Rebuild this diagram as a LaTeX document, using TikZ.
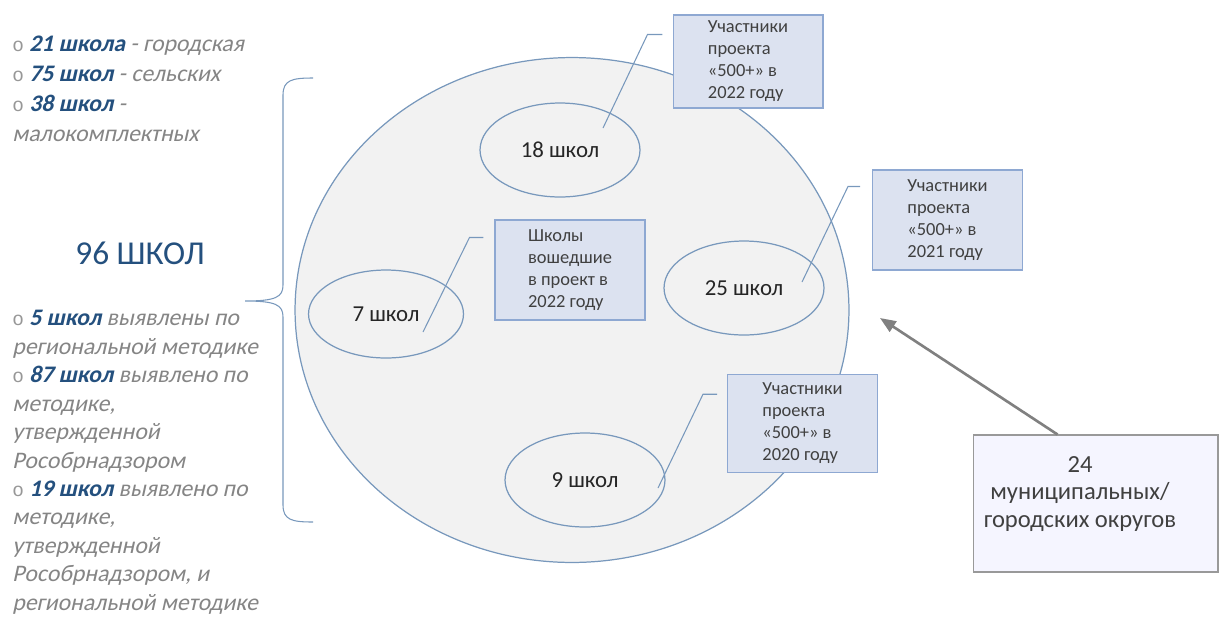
\documentclass[tikz,border=0pt]{standalone}
\usepackage{fontspec}
\setmainfont{Carlito}
\newfontfamily\listfont{Carlito}[FakeSlant=0.22]
\newfontfamily\bulfont{Liberation Mono}
\usetikzlibrary{shapes.geometric,arrows.meta}
\definecolor{numblue}{HTML}{24507E}
\definecolor{txtgray}{HTML}{858585}
\definecolor{edgeblue}{HTML}{7898BC}
\definecolor{boxfill}{HTML}{DCE2F0}
\definecolor{boxedge}{HTML}{8EA8D2}
\newcommand{\bul}[1]{{\bulfont\fontsize{11}{11}\selectfont\color{txtgray!85}o}\ {\bfseries\color{numblue}#1}}
\tikzset{
  listtext/.style={anchor=north west,inner sep=0pt,align=left,text=txtgray,font=\listfont\fontsize{13.5}{17}\selectfont},
  sch/.style={ellipse,draw=edgeblue,line width=0.7pt,minimum width=3.2cm,minimum height=1.88cm,text=black!85,font=\fontsize{13}{15}\selectfont},
  note/.style={draw=boxedge,fill=boxfill,line width=0.6pt,minimum width=3cm,minimum height=1.95cm,align=left,text=black!75,font=\fontsize{10.5}{12.5}\selectfont},
  lead/.style={draw=edgeblue,line width=0.6pt}
}
\begin{document}
\begin{tikzpicture}[x=0.02cm,y=-0.02cm]
\useasboundingbox (0,0) rectangle (1219,616);
\node[listtext] (kinds) at (12,36) {\bul{21 школа} - городская\\ \bul{75 школ} - сельских\\ \bul{38 школ} -\\ малокомплектных};
\node[text=numblue,font=\fontsize{19}{22}\selectfont] (total) at (140,253) {96 ШКОЛ};
\node[listtext,font=\listfont\fontsize{13.5}{16.2}\selectfont] (methods) at (12,310) {\bul{5 школ} выявлены по\\ региональной методике\\ \bul{87 школ} выявлено по\\ методике,\\ утвержденной\\ Рособрнадзором\\ \bul{19 школ} выявлено по\\ методике,\\ утвержденной\\ Рособрнадзором, и\\ региональной методике};
\draw[edgeblue,line width=0.6pt] (313,78) .. controls (292,78) and (283,80) .. (283,95) -- (283,285) .. controls (283,297) and (276,301) .. (245,301) .. controls (276,301) and (283,305) .. (283,317) -- (283,505) .. controls (283,520) and (292,522) .. (313,522);
\node[ellipse,draw=edgeblue,fill=black!5,line width=0.7pt,minimum width=11.08cm,minimum height=10.1cm] (pool) at (572,310) {};
\node[sch] (e18) at (560,150) {18 школ};
\node[sch,minimum width=3.1cm,minimum height=1.76cm] (e7) at (386,314) {7 школ};
\node[sch] (e25) at (744,288) {25 школ};
\node[sch] (e9) at (585,480) {9 школ};
\node[note,minimum height=1.86cm] (b1) at (748,61.5) {Участники\\ проекта\\ «500+» в\\ 2022 году};
\node[note,minimum height=2cm] (b2) at (947.5,220) {Участники\\ проекта\\ «500+» в\\ 2021 году};
\node[note,minimum height=2cm] (b3) at (570,270) {Школы\\ вошедшие\\ в проект в\\ 2022 году};
\node[note] (b4) at (802.5,423.5) {Участники\\ проекта\\ «500+» в\\ 2020 году};
\draw[lead] ([shift={(-10,20)}]b1.north west) -- ++(-15,0) -- ([shift={(43,-22)}]e18.center);
\draw[lead] ([shift={(-12,17)}]b2.north west) -- ++(-12,0) -- ([shift={(58,-6)}]e25.center);
\draw[lead] ([shift={(-11,18)}]b3.north west) -- ++(-14,0) -- ([shift={(37,18)}]e7.center);
\draw[lead] ([shift={(-10,20)}]b4.north west) -- ++(-14,0) -- ([shift={(73,8)}]e9.center);
\node[draw=black!40,fill=blue!4,line width=0.6pt,minimum width=4.9cm,minimum height=2.74cm] (b5) at (1095.5,503.5) {};
\node[align=center,text=black!75,font=\fontsize{14}{15.5}\selectfont] (t5) at (1080,494) {24\\ муниципальных/\\ городских округов};
\coordinate (tip) at (880,318);
\draw[black!50,line width=1.5pt,-{Triangle[length=9pt,width=7pt]}] ([xshift=-0.76cm]b5.north) -- (tip);
\end{tikzpicture}
\end{document}
